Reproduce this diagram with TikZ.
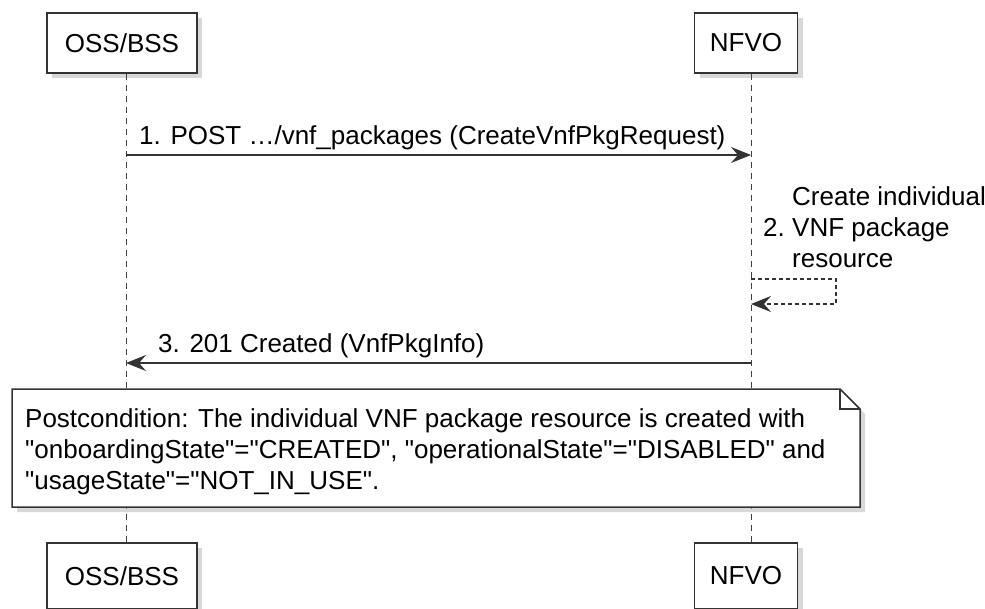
\documentclass[tikz,border=0pt]{standalone}
\usepackage{fontspec}
\setmainfont{Liberation Sans}
\usetikzlibrary{arrows.meta,positioning,shadows}
\newcommand\qq[1]{\textquotedbl#1\textquotedbl}

\begin{document}
\begin{tikzpicture}[x=1pt,y=-1pt,
    font=\fontsize{26}{31}\selectfont,
    part/.style={draw=black!80,line width=1.5pt,fill=white,minimum height=60pt,inner sep=0pt,
      drop shadow={shadow xshift=5pt,shadow yshift=-5pt,fill=black!30}},
    life/.style={draw=black!75,line width=1pt,dash pattern=on 6pt off 5pt},
    msg/.style={draw=black!80,line width=1.3pt,-{Stealth[length=20pt,width=16pt,inset=7pt]}},
    lbl/.style={inner sep=0pt,anchor=base west}
  ]
  \useasboundingbox (0,0) rectangle (985,608);
  \node[part,minimum width=150pt] (ossT) at (122,43) {OSS/BSS};
  \node[part,minimum width=103pt] (nfvoT) at (746,43) {NFVO};
  \node[part,minimum width=150pt,minimum height=66pt] (ossB) at (122,576) {OSS/BSS};
  \node[part,minimum width=103pt,minimum height=66pt] (nfvoB) at (746,576) {NFVO};
  \draw[life] ([xshift=4pt]ossT.south) -- ([xshift=4pt]ossB.north);
  \draw[life] ([xshift=5pt]nfvoT.south) -- ([xshift=5pt]nfvoB.north);

  \coordinate (o1) at (126,155);
  \coordinate (n1) at (751,155);
  \draw[msg] (o1) -- (n1);
  \node[lbl] (m1) at (139,144) {1. POST …/vnf\_packages (CreateVnfPkgRequest)};

  \node[inner sep=0pt,anchor=west,align=left] (t2) at (792,227) {Create individual\\VNF package\\resource};
  \node[inner sep=0pt,left=7pt of t2] (m2) {2.};
  \coordinate (s2a) at (751,279);
  \coordinate (s2b) at (751,304);
  \draw[msg,dash pattern=on 4pt off 3pt] (s2a) -- ++(85,0) |- (s2b);

  \coordinate (n3) at (751,363);
  \coordinate (o3) at (126,363);
  \draw[msg] (n3) -- (o3);
  \node[lbl] (m3) at (158,352) {3. 201 Created (VnfPkgInfo)};

  \draw[draw=black!80,line width=1.5pt,fill=white,drop shadow={shadow xshift=5pt,shadow yshift=-5pt,fill=black!30}]
    (12,389) -- (840,389) -- (860,409) |- (12,507) -- cycle;
  \draw[draw=black!80,line width=1.2pt] (840,389) |- (860,409);
  \node[inner sep=0pt,anchor=north west,align=left] (post) at (25,408)
    {Postcondition: The individual VNF package resource is created with\\
     \qq{onboardingState}=\qq{CREATED}, \qq{operationalState}=\qq{DISABLED} and\\
     \qq{usageState}=\qq{NOT\_IN\_USE}.};
\end{tikzpicture}
\end{document}
